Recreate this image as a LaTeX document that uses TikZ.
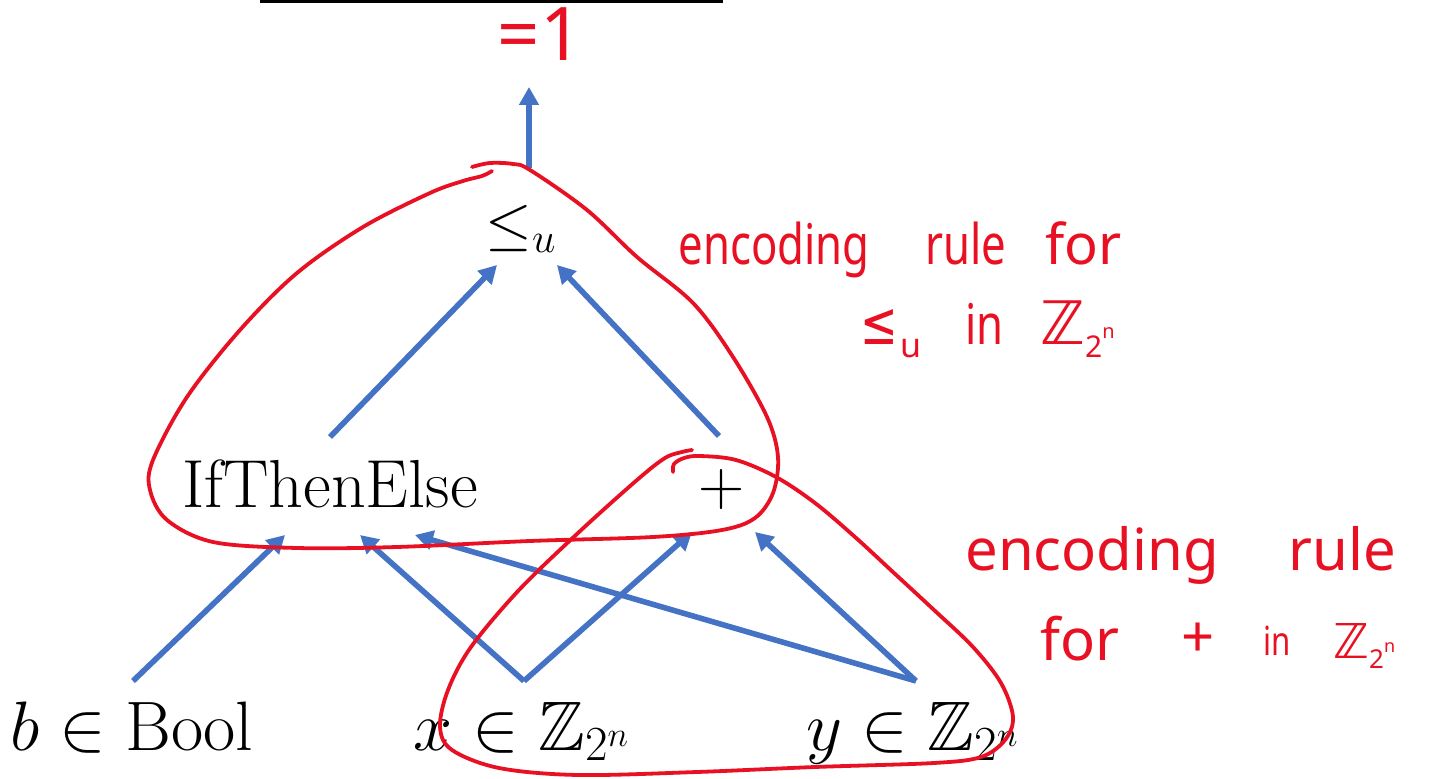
\RequirePackage{fix-cm}
\documentclass[tikz,border=0pt]{standalone}
\usepackage{amsmath,amssymb}
\usepackage{graphicx}
\usepackage{fontspec}
\usetikzlibrary{arrows.meta}
\newfontfamily\handfont{Noto Sans}
\newfontfamily\handnarrow[FakeStretch=0.78]{Noto Sans}
\newfontfamily\symfont{DejaVu Sans}
\definecolor{inkred}{RGB}{232,17,35}
\definecolor{arrowblue}{RGB}{68,114,196}
\begin{document}
\begin{tikzpicture}[x=0.5pt,y=-0.5pt,
  lbl/.style={font=\fontsize{34}{38}\selectfont, inner sep=0pt},
  blbl/.style={font=\fontsize{35}{40}\selectfont, inner sep=0pt, anchor=base},
  conn/.style={draw=arrowblue, line width=2.8pt, -{Triangle[length=9pt,width=9.5pt]}},
  ink/.style={draw=inkred, line width=1.9pt, line cap=round, line join=round},
  hand/.style={text=inkred, inner sep=0pt, anchor=base west}]
\useasboundingbox (0,0) rectangle (1433,779);

% top bar
\draw[line width=1.6pt] (260,1.5) -- (723,1.5);

% nodes
\node[lbl, font=\fontsize{30}{34}\selectfont, anchor=base] (le) at (521,244) {$\le_u$};
\node[lbl, anchor=base] (ite) at (330,508) {IfThenElse};
\node[lbl, font=\fontsize{32}{36}\selectfont] (plus) at (722,490) {$+$};
\node[blbl] (b) at (132,750) {$b\in\mathrm{Bool}$};
\node[blbl] (x) at (522,750) {$x\in\mathbb{Z}_{2^n}$};
\node[blbl] (y) at (913,750) {$y\in\mathbb{Z}_{2^n}$};

\node[hand, anchor=base, font=\handfont\fontsize{37}{40}\selectfont] (res) at (540,61) {=1};

% connector end points
\coordinate (le-out) at (529,168);
\coordinate (res-in) at (529,87);
\coordinate (ite-out) at (330,437);
\coordinate (le-inl) at (497,265);
\coordinate (plus-out) at (719,436);
\coordinate (le-inr) at (557,265);
\coordinate (b-out) at (133,681);
\coordinate (ite-in1) at (285,535);
\coordinate (x-out) at (524,681);
\coordinate (ite-in2) at (360,535);
\coordinate (plus-in1) at (692,532);
\coordinate (y-out) at (916,681);
\coordinate (ite-in3) at (415,535);
\coordinate (plus-in2) at (755,532);

\draw[conn] (le-out) -- (res-in);
\draw[conn] (ite-out) -- (le-inl);
\draw[conn] (plus-out) -- (le-inr);
\draw[conn] (b-out) -- (ite-in1);
\draw[conn] (x-out) -- (ite-in2);
\draw[conn] (x-out) -- (plus-in1);
\draw[conn] (y-out) -- (ite-in3);
\draw[conn] (y-out) -- (plus-in2);

% red loops
\draw[ink] plot[smooth, tension=0.55] coordinates {
 (472,167) (490,163) (513,164) (530,170) (587,210) (637,257) (693,303)
 (733,357) (767,417) (778,457) (773,493) (755,518) (722,530) (653,537)
 (530,541) (397,547) (297,548) (213,542) (167,520) (150,490) (153,460)
 (187,397) (240,330) (297,273) (363,227) (430,193) (463,181) (482,176) (492,171)};
\draw[ink] plot[smooth, tension=0.55] coordinates {
 (673,472) (674,464) (684,458) (700,456) (736,460) (776,477) (815,503)
 (855,537) (894,573) (934,610) (973,647) (1001,683) (1013,717) (1005,740)
 (981,757) (934,763) (815,767) (697,772) (578,775) (499,768) (452,750)
 (440,727) (448,690) (471,647) (519,590) (578,533) (637,480) (665,458)
 (682,452) (692,450)};

% handwritten notes
\node[hand, font=\handnarrow\fontsize{28}{30}\selectfont] (n1a) at (678,265) {encoding};
\node[hand, font=\handnarrow\fontsize{28}{30}\selectfont] (n1b) at (925,265) {rule};
\node[hand, font=\handfont\fontsize{28}{30}\selectfont] (n1c) at (1045,265) {for};
\node[hand, font=\fontsize{30}{32}\selectfont] (n2a) at (860,345)
  {\scalebox{0.75}[1]{\symfont ≤}\hspace{1pt}\raisebox{-6.5pt}{\handfont\fontsize{17}{17}\selectfont u}};
\node[hand, font=\handnarrow\fontsize{28}{30}\selectfont] (n2b) at (965,345) {in};
\node[hand, font=\fontsize{30}{32}\selectfont] (n2c) at (1040,345)
  {{\symfont ℤ}\raisebox{-6.5pt}{\handfont\fontsize{15}{15}\selectfont 2}\raisebox{3pt}{\handfont\fontsize{10}{10}\selectfont n}};

\node[hand, font=\handfont\fontsize{29}{30}\selectfont] (n3a) at (965,570) {encoding};
\node[hand, font=\handfont\fontsize{29}{30}\selectfont] (n3b) at (1288,570) {rule};
\node[hand, font=\handfont\fontsize{29}{30}\selectfont] (n4a) at (1040,660) {for};
\node[hand, anchor=center, font=\handfont\fontsize{29}{30}\selectfont] (n4b) at (1198,640) {+};
\node[hand, font=\handnarrow\fontsize{20}{22}\selectfont] (n4c) at (1263,655) {in};
\node[hand, font=\fontsize{24}{26}\selectfont] (n4d) at (1333,658)
  {{\symfont ℤ}\raisebox{-5pt}{\handfont\fontsize{13}{13}\selectfont 2}\raisebox{3pt}{\handfont\fontsize{9}{9}\selectfont n}};
\end{tikzpicture}
\end{document}
